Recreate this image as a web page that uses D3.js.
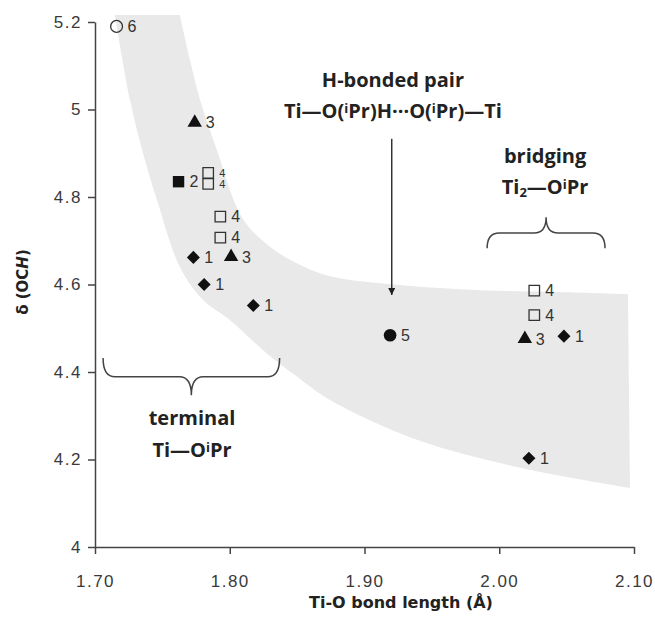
<!DOCTYPE html>
<html>
<head>
<meta charset="utf-8">
<script src="https://cdn.jsdelivr.net/npm/d3@7"></script>
<style>
  body { margin: 0; background: #fff; }
  .tick text { font-family: "Liberation Sans", Arial, sans-serif; font-size: 17px; fill: #3a3a3a; letter-spacing: 1.5px; }
  .tick line, .domain { stroke: #444; stroke-width: 1.5px; }
  .lbl { font-family: "Liberation Sans", Arial, sans-serif; font-size: 16px; fill: #333; }
  .note { font-family: "Open Sans", sans-serif; font-weight: bold; font-size: 20px; fill: #222; }
</style>
</head>
<body>
<script>
// compound number, Ti-O bond length (A), delta OCH (ppm)
var compound   = [6, 3, 2, 4, 4, 4, 4, 1, 3, 1, 1, 5, 4, 4, 3, 1, 1];
var bondLength = [1.716, 1.774, 1.762, 1.784, 1.784, 1.793, 1.793, 1.773, 1.801, 1.781, 1.8175,
                  1.919, 2.026, 2.026, 2.019, 2.048, 2.022];
var shift      = [5.19, 4.97, 4.835, 4.855, 4.83, 4.755, 4.707, 4.662, 4.663, 4.60, 4.552,
                  4.484, 4.586, 4.53, 4.476, 4.482, 4.203];

// shaded band, upper and lower edges (bond length, delta)
var bandUpper = [[1.763, 5.216], [1.7705, 5.113], [1.778, 5.022], [1.7905, 4.907], [1.8098, 4.75],
                 [1.83, 4.686], [1.852, 4.645], [1.8744, 4.619], [1.926, 4.599], [1.986, 4.587],
                 [2.045, 4.583], [2.0955, 4.578]];
var bandLower = [[1.7148, 5.216], [1.726, 5.022], [1.737, 4.885], [1.746, 4.793], [1.763, 4.64],
                 [1.780, 4.565], [1.800, 4.519], [1.8247, 4.45], [1.85, 4.389], [1.8744, 4.336],
                 [1.939, 4.245], [2.013, 4.183], [2.097, 4.135]];

var xTicks = [1.7, 1.8, 1.9, 2.0, 2.1];
var yTicks = [4, 4.2, 4.4, 4.6, 4.8, 5, 5.2];

var w = 655, h = 625;
var svg = d3.select('body').append('svg').attr('width', w).attr('height', h);

var x = d3.scaleLinear().domain([1.7, 2.1]).range([95, 634]);
var y = d3.scaleLinear().domain([4, 5.2]).range([547, 22]);

// band
var edge = d3.line().x(function(d) { return x(d[0]); }).y(function(d) { return y(d[1]); })
    .curve(d3.curveCatmullRom);
var dUp = edge(bandUpper), dLo = edge(bandLower.slice().reverse());
svg.append('path')
    .attr('d', dUp + 'L' + dLo.slice(1) + 'Z')
    .attr('fill', '#e9e9e9');

// axes
svg.append('g').attr('transform', 'translate(0,' + y(4) + ')')
    .call(d3.axisBottom(x).tickValues(xTicks).tickFormat(d3.format('.2f')).tickSize(7).tickSizeOuter(0).tickPadding(21));
svg.append('g').attr('transform', 'translate(' + x(1.7) + ',0)')
    .call(d3.axisLeft(y).tickValues(yTicks).tickFormat(function(d) { return String(+d.toFixed(1)); })
        .tickSize(7).tickSizeOuter(0).tickPadding(6));

svg.append('text').attr('x', 401).attr('y', 608).attr('text-anchor', 'middle')
    .style('font-family', '"DejaVu Sans", sans-serif').style('font-weight', 'bold').style('font-size', '16px')
    .attr('fill', '#222').text('Ti-O bond length (Å)');

var yl = svg.append('text').attr('transform', 'translate(28,282) rotate(-90)').attr('text-anchor', 'middle')
    .style('font-family', '"DejaVu Sans", sans-serif').style('font-weight', 'bold').style('font-size', '15px')
    .attr('fill', '#222');
yl.append('tspan').text('δ (OC');
yl.append('tspan').style('font-style', 'italic').text('H');
yl.append('tspan').text(')');

// points
var pts = compound.map(function(c, i) { return { c: c, x: bondLength[i], y: shift[i] }; });
var sym = {
  1: { type: d3.symbolSquare, size: 85, fill: '#111', rot: 45 },
  2: { type: d3.symbolSquare, size: 130, fill: '#111', rot: 0 },
  3: { type: d3.symbolTriangle, size: 90, fill: '#111', rot: 0 },
  4: { type: d3.symbolSquare, size: 110, fill: 'none', rot: 0 },
  5: { type: d3.symbolCircle, size: 125, fill: '#111', rot: 0 },
  6: { type: d3.symbolCircle, size: 110, fill: 'none', rot: 0 }
};
// labels of stacked points sit closer than a line: shrink them
pts.forEach(function(d) {
  d.tight = pts.some(function(o) {
    return o !== d && Math.abs(x(o.x) - x(d.x)) < 4 && Math.abs(y(o.y) - y(d.y)) < 14;
  });
});
var g = svg.append('g');
g.selectAll('path').data(pts).enter().append('path')
    .attr('d', function(d) { return d3.symbol().type(sym[d.c].type).size(sym[d.c].size)(); })
    .attr('transform', function(d) { return 'translate(' + x(d.x) + ',' + y(d.y) + ') rotate(' + sym[d.c].rot + ')'; })
    .attr('fill', function(d) { return sym[d.c].fill; })
    .attr('stroke', function(d) { return sym[d.c].fill == 'none' ? '#333' : 'none'; })
    .attr('stroke-width', 1.3);
g.selectAll('text').data(pts).enter().append('text').attr('class', 'lbl')
    .attr('x', function(d) { return x(d.x) + 11; })
    .attr('y', function(d) { return y(d.y); })
    .attr('dy', '0.36em')
    .style('font-size', function(d) { return d.tight ? '11px' : null; })
    .text(function(d) { return d.c; });

// braces
function brace(x1, x2, yEnd, yMid, yTip) {
  var a = x(x1), b = x(x2), c = (a + b) / 2, e = y(yEnd), m = y(yMid), t = y(yTip), r = 12;
  return 'M' + a + ',' + e + ' Q' + a + ',' + m + ' ' + (a + r) + ',' + m + ' L' + (c - r) + ',' + m +
    ' Q' + c + ',' + m + ' ' + c + ',' + t + ' Q' + c + ',' + m + ' ' + (c + r) + ',' + m +
    ' L' + (b - r) + ',' + m + ' Q' + b + ',' + m + ' ' + b + ',' + e;
}
svg.append('path').attr('d', brace(1.706, 1.837, 4.432, 4.389, 4.347))
    .attr('fill', 'none').attr('stroke', '#444').attr('stroke-width', 1.5);
svg.append('path').attr('d', brace(1.991, 2.0785, 4.683, 4.718, 4.754))
    .attr('fill', 'none').attr('stroke', '#444').attr('stroke-width', 1.5);

// arrow
svg.append('defs').append('marker').attr('id', 'ah').attr('viewBox', '0 0 10 10')
    .attr('refX', 10).attr('refY', 5).attr('markerWidth', 8).attr('markerHeight', 7)
    .attr('markerUnits', 'userSpaceOnUse').attr('orient', 'auto')
  .append('path').attr('d', 'M0,0 L10,5 L0,10 Z').attr('fill', '#222');
svg.append('line').attr('x1', x(1.9202)).attr('x2', x(1.9202)).attr('y1', y(4.933)).attr('y2', y(4.576))
    .attr('stroke', '#333').attr('stroke-width', 1.5).attr('marker-end', 'url(#ah)');

// notes
function note(px, py, parts) {
  var t = svg.append('text').attr('class', 'note').attr('x', x(px)).attr('y', y(py)).attr('text-anchor', 'middle');
  parts.forEach(function(p) {
    var s = t.append('tspan').text(p[0]);
    if (p[1] == 'sup') s.attr('baseline-shift', '35%').style('font-size', '13px');
    if (p[1] == 'sub') s.attr('baseline-shift', '-20%').style('font-size', '13px');
  });
}
note(1.9211, 5.051, [['H-bonded pair']]);
note(1.9211, 4.981, [['Ti—O('], ['i', 'sup'], ['Pr)H···O('], ['i', 'sup'], ['Pr)—Ti']]);
note(2.034, 4.878, [['bridging']]);
note(2.034, 4.807, [['Ti'], ['2', 'sub'], ['—O'], ['i', 'sup'], ['Pr']]);
note(1.772, 4.279, [['terminal']]);
note(1.772, 4.206, [['Ti—O'], ['i', 'sup'], ['Pr']]);
</script>
</body>
</html>
